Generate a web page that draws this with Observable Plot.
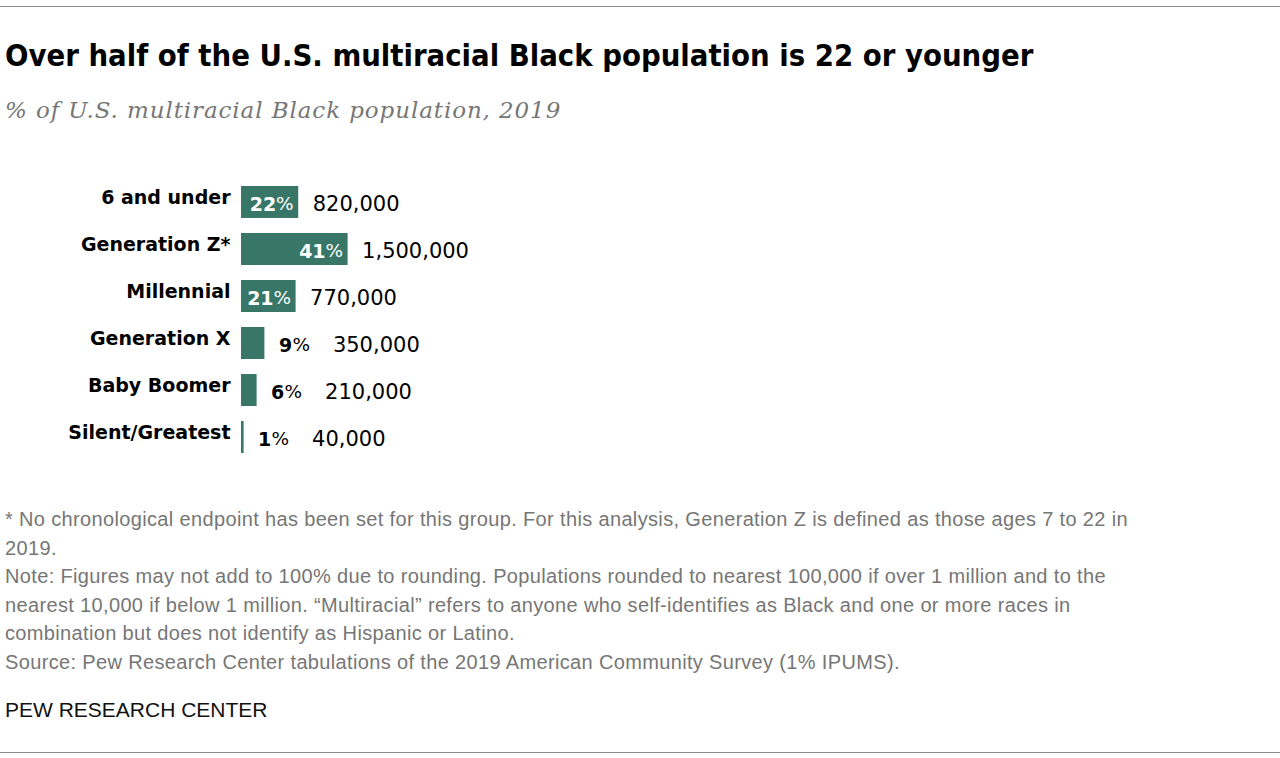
<!DOCTYPE html>
<html>
<head>
<meta charset="utf-8">
<script src="https://cdn.jsdelivr.net/npm/d3@7"></script>
<script src="https://cdn.jsdelivr.net/npm/@observablehq/plot@0.6"></script>
<style>
  html, body { margin: 0; padding: 0; background: #fff; }
  body { width: 1280px; height: 758px; position: relative; overflow: hidden; }
  .rule { position: absolute; left: 0; width: 1280px; height: 0; border-top: 1.5px solid #8a8a8a; }
  #title { position: absolute; left: 5px; top: 40px; font-family: "Liberation Sans Narrow", "DejaVu Sans Condensed", "Liberation Sans", sans-serif; font-stretch: condensed; font-weight: bold; font-size: 30.7px; line-height: 31px; color: #000; white-space: nowrap; }
  #subtitle { position: absolute; left: 5px; top: 99px; font-family: "DejaVu Serif", serif; font-style: italic; font-size: 23px; line-height: 22px; letter-spacing: 0.9px; color: #767676; white-space: nowrap; }
  #chart { position: absolute; left: 0; top: 178px; }
  #notes { position: absolute; left: 5px; top: 505px; font-family: "Liberation Sans", Arial, sans-serif; font-size: 20px; line-height: 28.5px; letter-spacing: 0.35px; color: #767676; white-space: nowrap; }
  #pew { position: absolute; left: 5px; top: 699px; font-family: "Liberation Sans", Arial, sans-serif; font-size: 21px; line-height: 21px; color: #111; white-space: nowrap; }
</style>
</head>
<body>
<div class="rule" style="top:6px"></div>
<div id="title">Over half of the U.S. multiracial Black population is 22 or younger</div>
<div id="subtitle">% of U.S. multiracial Black population, 2019</div>
<div id="chart"></div>
<div id="notes">* No chronological endpoint has been set for this group. For this analysis, Generation Z is defined as those ages 7 to 22 in<br>2019.<br>Note: Figures may not add to 100% due to rounding. Populations rounded to nearest 100,000 if over 1 million and to the<br>nearest 10,000 if below 1 million. “Multiracial” refers to anyone who self-identifies as Black and one or more races in<br>combination but does not identify as Hispanic or Latino.<br>Source: Pew Research Center tabulations of the 2019 American Community Survey (1% IPUMS).</div>
<div id="pew">PEW RESEARCH CENTER</div>
<div class="rule" style="top:752px"></div>
<script>
const categories = ["6 and under", "Generation Z*", "Millennial", "Generation X", "Baby Boomer", "Silent/Greatest"];
const shares = [22, 41, 21, 9, 6, 1];
const populations = ["820,000", "1,500,000", "770,000", "350,000", "210,000", "40,000"];

const rows = categories.map((c, i) => ({cat: c, share: shares[i], pop: populations[i], num: String(shares[i])}));
const inside = d => d.share >= 15;
const outside = d => d.share < 15;
const barColor = "#387767";

const chart = Plot.plot({
  width: 1280,
  height: 282,
  marginLeft: 241,
  marginRight: 779,
  marginTop: 0,
  marginBottom: 0,
  style: {fontFamily: "DejaVu Sans, sans-serif", fontSize: "18px", color: "#000", background: "transparent"},
  x: {domain: [0, 100], axis: null},
  y: {domain: categories, paddingInner: 0.32, paddingOuter: 0.16, label: null},
  marks: [
    Plot.axisY({tickSize: 0, tickPadding: 11, fontWeight: "bold", fontSize: 19, dy: -5, label: null}),
    Plot.barX(rows, {x: "share", y: "cat", fill: barColor}),
    // inside labels
    Plot.text(rows, {filter: inside, x: "share", y: "cat", text: () => "%", textAnchor: "end", dx: -5, dy: 2, fill: "#fff", fontSize: 18.5}),
    Plot.text(rows, {filter: inside, x: "share", y: "cat", text: "num", textAnchor: "end", dx: -22.5, dy: 2, fill: "#fff", fontWeight: "bold", fontSize: 19}),
    // outside labels
    Plot.text(rows, {filter: outside, x: "share", y: "cat", text: "num", textAnchor: "start", dx: 14, dy: 2, fill: "#000", fontWeight: "bold", fontSize: 19}),
    Plot.text(rows, {filter: outside, x: "share", y: "cat", text: () => "%", textAnchor: "start", dx: 27.5, dy: 2, fill: "#000", fontSize: 18.5}),
    // population numbers
    Plot.text(rows, {filter: inside, x: "share", y: "cat", text: "pop", textAnchor: "start", dx: 14, dy: 2, fill: "#000", fontSize: 21}),
    Plot.text(rows, {filter: outside, x: "share", y: "cat", text: "pop", textAnchor: "start", dx: 68, dy: 2, fill: "#000", fontSize: 21})
  ]
});
document.getElementById("chart").appendChild(chart);
</script>
</body>
</html>
